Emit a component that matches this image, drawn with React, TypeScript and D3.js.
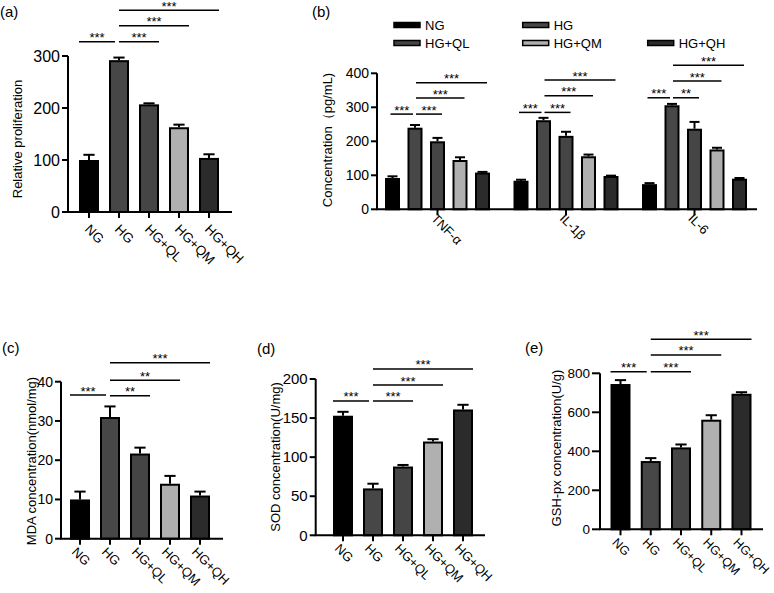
import React from 'react';
import * as d3 from 'd3';

// ---------- data ----------
const groups = ['NG', 'HG', 'HG+QL', 'HG+QM', 'HG+QH'];
const fills = ['#000000', '#474747', '#454545', '#b0b0b0', '#2b2b2b'];

// (a) relative proliferation
const prolifMean = [100, 292, 207, 163, 104];
const prolifErr = [10, 5, 2, 5, 7];
const prolifTicks = [0, 100, 200, 300];
const prolifSig: [number, number, string, number][] = [
  [0, 1, '***', 327.5], [1, 2, '***', 327.5], [1, 3, '***', 358], [1, 4, '***', 388],
];

// (b) cytokines
const cytokines = ['TNF-α', 'IL-1β', 'IL-6'];
const cytoMean = [
  [92, 84, 74],     // NG
  [240, 262, 306],  // HG
  [200, 216, 237],  // HG+QL
  [145, 156, 176],  // HG+QM
  [108, 98, 90],    // HG+QH
];
const cytoErr = [
  [5, 3, 3],
  [8, 7, 4],
  [10, 12, 20],
  [8, 5, 5],
  [2, 1, 2],
];
const cytoTicks = [0, 100, 200, 300, 400];
const cytoSig: [number, number, string, number][][] = [
  [[0, 1, '***', 280], [1, 2, '***', 280], [1, 3, '***', 327], [1, 4, '***', 372]],
  [[0, 1, '***', 285], [1, 2, '***', 285], [1, 3, '***', 334], [1, 4, '***', 380]],
  [[0, 1, '***', 328], [1, 2, '**', 328], [1, 3, '***', 377], [1, 4, '***', 423.5]],
];

// (c) MDA
const mdaMean = [10, 31, 21.7, 14, 11];
const mdaErr = [2, 2.7, 1.5, 2, 1];
const mdaTicks = [0, 10, 20, 30, 40];
const mdaSig: [number, number, string, number][] = [
  [0, 1, '***', 36.6], [1, 2, '**', 36.4], [1, 3, '**', 40.4], [1, 4, '***', 44.8],
];

// (d) SOD
const sodMean = [153, 60, 88, 120, 161];
const sodErr = [5, 6, 2, 3, 6];
const sodTicks = [0, 50, 100, 150, 200];
const sodSig: [number, number, string, number][] = [
  [0, 1, '***', 172], [1, 2, '***', 172], [1, 3, '***', 192.3], [1, 4, '***', 212.8],
];

// (e) GSH-px
const gshMean = [745, 350, 420, 562, 695];
const gshErr = [20, 15, 15, 23, 8];
const gshTicks = [0, 200, 400, 600, 800];
const gshSig: [number, number, string, number][] = [
  [0, 1, '***', 808], [1, 2, '***', 808], [1, 3, '***', 894], [1, 4, '***', 974],
];

const FONT = '"Liberation Sans", Arial, Helvetica, sans-serif';

type Cfg = {
  panel: string; panelX: number; panelY: number;
  yLabel: string; yLabelX: number; yLabelY: number;
  axisX: number; y0: number; y1: number; max: number;
  xFirst: number; xLast: number; xEnd: number; barW: number; tickFont: number;
  tickLen: number; tickGap: number; xFont: number; xlDx: number; xlDy: number;
};

function SimplePanel({ cfg, means, errs, ticks, sigs }: {
  cfg: Cfg; means: number[]; errs: number[]; ticks: number[]; sigs: [number, number, string, number][];
}) {
  const y = d3.scaleLinear().domain([0, cfg.max]).range([cfg.y0, cfg.y1]);
  const x = d3.scalePoint<string>().domain(groups).range([cfg.xFirst, cfg.xLast]);
  const bw = cfg.barW;
  return (
    <g>
      <text x={cfg.panelX} y={cfg.panelY} fontSize={15}>{cfg.panel}</text>
      <text transform={`translate(${cfg.yLabelX},${cfg.yLabelY}) rotate(-90)`} dy="0.35em"
        textAnchor="middle" fontSize={13}>{cfg.yLabel}</text>
      {groups.map((g, i) => {
        const cx = x(g)!;
        const top = y(means[i]);
        const et = y(means[i] + errs[i]);
        return (
          <g key={g}>
            <line x1={cx} x2={cx} y1={top} y2={et} stroke="#000" strokeWidth={2} />
            <line x1={cx - bw * 0.28} x2={cx + bw * 0.28} y1={et} y2={et} stroke="#000" strokeWidth={2} />
            <rect x={cx - bw / 2 + 1} y={top + 1} width={bw - 2} height={cfg.y0 - top - 1}
              fill={fills[i]} stroke="#000" strokeWidth={2} />
          </g>
        );
      })}
      {/* y axis */}
      <line x1={cfg.axisX} x2={cfg.axisX} y1={y(0)} y2={y(cfg.max)} stroke="#000" strokeWidth={2} />
      {ticks.map(t => (
        <g key={t}>
          <line x1={cfg.axisX - cfg.tickLen} x2={cfg.axisX} y1={y(t)} y2={y(t)} stroke="#000" strokeWidth={2} />
          <text x={cfg.axisX - cfg.tickGap} y={y(t)} dy="0.35em" textAnchor="end" fontSize={cfg.tickFont}>{t}</text>
        </g>
      ))}
      {/* x axis */}
      <line x1={cfg.axisX - 1} x2={cfg.xEnd} y1={y(0)} y2={y(0)} stroke="#000" strokeWidth={2} />
      {groups.map(g => (
        <g key={g}>
          <line x1={x(g)} x2={x(g)} y1={y(0)} y2={y(0) + 6} stroke="#000" strokeWidth={2} />
          <text transform={`translate(${x(g)! + cfg.xlDx},${y(0) + cfg.xlDy}) rotate(45)`} fontSize={cfg.xFont}>{g}</text>
        </g>
      ))}
      {sigs.map(([a, b, s, lv], k) => {
        const ly = y(lv);
        const x1 = a === 0 ? x(groups[a])! - bw / 2 : x(groups[a])!;
        const x2 = a === 0 ? x(groups[b])! - 4 : x(groups[b])! + bw / 2;
        return (
          <g key={k}>
            <line x1={x1} x2={x2} y1={ly} y2={ly} stroke="#000" strokeWidth={1.5} />
            <text x={(x1 + x2) / 2} y={ly + 0.5} textAnchor="middle" fontSize={13}>{s}</text>
          </g>
        );
      })}
    </g>
  );
}

function CytokinePanel() {
  const axisX = 377;
  const y = d3.scaleLinear().domain([0, 400]).range([209.3, 73.3]);
  const gx = d3.scalePoint<string>().domain(cytokines).range([437.5, 694.5]);
  const sx = d3.scalePoint<string>().domain(groups).range([-45, 45]);
  const bw = 15;
  const legendCols = [394, 522.7, 647.7];
  const legendRows = [25, 43];
  return (
    <g>
      <text x={312} y={17} fontSize={15}>(b)</text>
      {groups.map((g, i) => {
        const col = i < 2 ? i : i - 2;
        const row = i < 2 ? 0 : 1;
        const lx = legendCols[col];
        const ly = legendRows[row];
        return (
          <g key={g}>
            <rect x={lx} y={ly - 2.5} width={26} height={5} fill={fills[i]} stroke="#000" strokeWidth={1.5} />
            <text x={lx + 31} y={ly} dy="0.35em" fontSize={13}>{g}</text>
          </g>
        );
      })}
      <text transform={`translate(327,140) rotate(-90)`} dy="0.35em" textAnchor="middle" fontSize={13}>
        Concentration（pg/mL)
      </text>
      {cytokines.map((c, ci) => (
        <g key={c}>
          {groups.map((g, i) => {
            const cx = gx(c)! + sx(g)!;
            const top = y(cytoMean[i][ci]);
            const et = y(cytoMean[i][ci] + cytoErr[i][ci]);
            return (
              <g key={g}>
                <line x1={cx} x2={cx} y1={top} y2={et} stroke="#000" strokeWidth={2} />
                <line x1={cx - 5} x2={cx + 5} y1={et} y2={et} stroke="#000" strokeWidth={2} />
                <rect x={cx - bw / 2 + 1} y={top + 1} width={bw - 2} height={y(0) - top - 1}
                  fill={fills[i]} stroke="#000" strokeWidth={2} />
              </g>
            );
          })}
          {cytoSig[ci].map(([a, b, s, lv], k) => {
            const ly = y(lv);
            const x1 = a === 0 ? gx(c)! + sx(groups[a])! - 2 : gx(c)! + sx(groups[a])! + 1;
            const x2 = a === 0 ? gx(c)! + sx(groups[b])! - 2 : gx(c)! + sx(groups[b])! + bw * 0.3;
            return (
              <g key={k}>
                <line x1={x1} x2={x2} y1={ly} y2={ly} stroke="#000" strokeWidth={1.5} />
                <text x={(x1 + x2) / 2} y={ly + 0.5} textAnchor="middle" fontSize={13}>{s}</text>
              </g>
            );
          })}
        </g>
      ))}
      <line x1={axisX} x2={axisX} y1={y(0)} y2={y(400)} stroke="#000" strokeWidth={2} />
      {cytoTicks.map(t => (
        <g key={t}>
          <line x1={axisX - 6} x2={axisX} y1={y(t)} y2={y(t)} stroke="#000" strokeWidth={2} />
          <text x={axisX - 8} y={y(t)} dy="0.35em" textAnchor="end" fontSize={14}>{t}</text>
        </g>
      ))}
      <line x1={axisX - 1} x2={757} y1={y(0)} y2={y(0)} stroke="#000" strokeWidth={2} />
      {cytokines.map(c => (
        <g key={c}>
          <line x1={gx(c)} x2={gx(c)} y1={y(0)} y2={y(0) + 6} stroke="#000" strokeWidth={2} />
          <text transform={`translate(${gx(c)! - 7},${y(0) + 10}) rotate(45)`} fontSize={13}>{c}</text>
        </g>
      ))}
    </g>
  );
}

const cfgA: Cfg = {
  panel: '(a)', panelX: 0, panelY: 17, yLabel: 'Relative proliferation', yLabelX: 17, yLabelY: 139,
  axisX: 68, y0: 212, y1: 56, max: 300, xFirst: 89, xLast: 209, xEnd: 232, barW: 20, tickFont: 16,
  tickLen: 6, tickGap: 8, xFont: 13.5, xlDx: -5, xlDy: 18,
};
const cfgC: Cfg = {
  panel: '(c)', panelX: 2, panelY: 353, yLabel: 'MDA concentration(nmol/mg)', yLabelX: 31, yLabelY: 461,
  axisX: 61, y0: 538.7, y1: 381.7, max: 40, xFirst: 80, xLast: 200, xEnd: 223, barW: 20, tickFont: 14,
  tickLen: 6, tickGap: 8, xFont: 13, xlDx: -9, xlDy: 14,
};
const cfgD: Cfg = {
  panel: '(d)', panelX: 257, panelY: 354, yLabel: 'SOD concentration(U/mg)', yLabelX: 275, yLabelY: 457,
  axisX: 315.7, y0: 535.3, y1: 379, max: 200, xFirst: 343, xLast: 463, xEnd: 485, barW: 20, tickFont: 15,
  tickLen: 6, tickGap: 8, xFont: 13, xlDx: -9, xlDy: 14,
};
const cfgE: Cfg = {
  panel: '(e)', panelX: 525, panelY: 353, yLabel: 'GSH-px concentration(U/g)', yLabelX: 556, yLabelY: 448,
  axisX: 600, y0: 529.3, y1: 373.3, max: 800, xFirst: 620.5, xLast: 741.5, xEnd: 763, barW: 20, tickFont: 13.5,
  tickLen: 8, tickGap: 10, xFont: 12.5, xlDx: -9, xlDy: 14,
};

export default function App() {
  return (
    <svg width={774} height={593} style={{ position: 'absolute', left: 0, top: 0, background: '#fff' }}
      fontFamily={FONT} fill="#000">
      <rect width={774} height={593} fill="#fff" />
      <SimplePanel cfg={cfgA} means={prolifMean} errs={prolifErr} ticks={prolifTicks} sigs={prolifSig} />
      <CytokinePanel />
      <SimplePanel cfg={cfgC} means={mdaMean} errs={mdaErr} ticks={mdaTicks} sigs={mdaSig} />
      <SimplePanel cfg={cfgD} means={sodMean} errs={sodErr} ticks={sodTicks} sigs={sodSig} />
      <SimplePanel cfg={cfgE} means={gshMean} errs={gshErr} ticks={gshTicks} sigs={gshSig} />
    </svg>
  );
}
